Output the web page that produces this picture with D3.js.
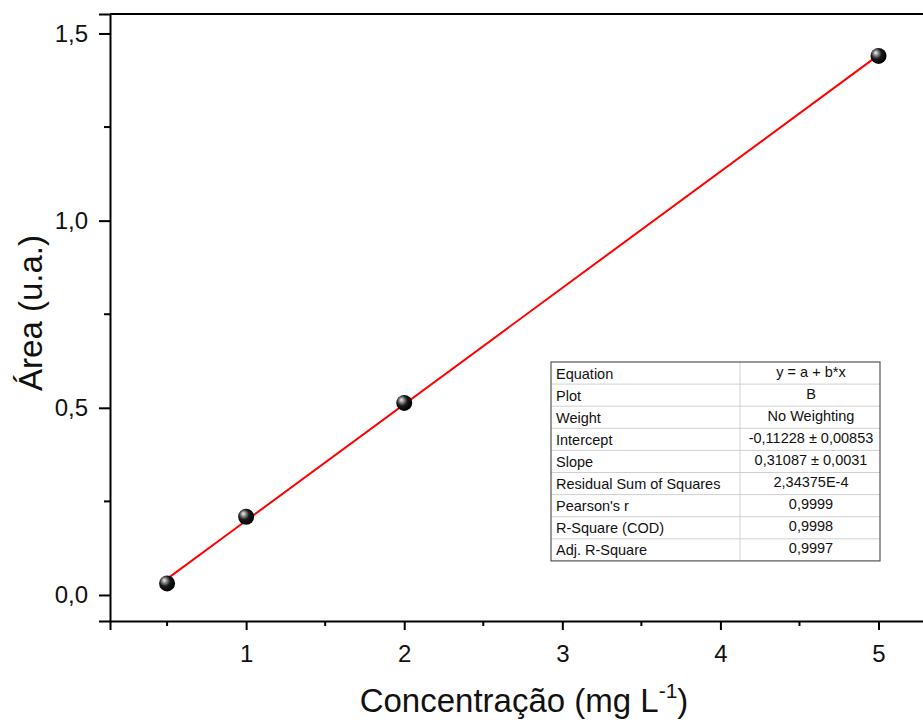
<!DOCTYPE html>
<html>
<head>
<meta charset="utf-8">
<script src="https://cdn.jsdelivr.net/npm/d3@7"></script>
<style>
  html, body { margin: 0; padding: 0; background: #fff; }
  svg { display: block; font-family: "Liberation Sans", Arial, sans-serif; }
</style>
</head>
<body>
<svg id="chart" width="923" height="722"></svg>
<script>
// Calibration data: concentration (mg/L) vs. peak area (a.u.)
const concentrations = [0.5, 1, 2, 5];
const areas = [0.031, 0.209, 0.513, 1.440];

// Linear fit parameters (y = a + b*x)
const fitIntercept = -0.11228;
const fitSlope = 0.31087;

// Axis ticks
const xMajorTicks = [1, 2, 3, 4, 5];
const xMinorTicks = [0.5, 1.5, 2.5, 3.5, 4.5];
const yMajorTicks = [0, 0.5, 1.0, 1.5];
const yMinorTicks = [0.25, 0.75, 1.25];

// Fit statistics table
const statLabels = ["Equation", "Plot", "Weight", "Intercept", "Slope",
  "Residual Sum of Squares", "Pearson's r", "R-Square (COD)", "Adj. R-Square"];
const statValues = ["y = a + b*x", "B", "No Weighting", "-0,11228 \u00b1 0,00853",
  "0,31087 \u00b1 0,0031", "2,34375E-4", "0,9999", "0,9998", "0,9997"];

const svg = d3.select("#chart");
const W = 923, H = 722;
const plot = { left: 110, top: 14, bottom: 621 };

const x = d3.scaleLinear().domain([0.139, 5.4]).range([plot.left, plot.left + (5.4 - 0.139) * 158.1]);
const y = d3.scaleLinear().domain([-0.0695, 1.552]).range([plot.bottom, plot.top]);

const fmt = d => d3.format(".1f")(d).replace(".", ",");

// Sphere-like marker shading
const defs = svg.append("defs");
const grad = defs.append("radialGradient").attr("id", "ball")
  .attr("cx", "40%").attr("cy", "40%").attr("r", "60%")
  .attr("fx", "32%").attr("fy", "30%");
grad.append("stop").attr("offset", "0%").attr("stop-color", "#f4f4f4");
grad.append("stop").attr("offset", "22%").attr("stop-color", "#9a9a9a");
grad.append("stop").attr("offset", "55%").attr("stop-color", "#1a1a1a");
grad.append("stop").attr("offset", "100%").attr("stop-color", "#000");

// Top frame line
svg.append("line")
  .attr("x1", plot.left).attr("x2", W)
  .attr("y1", plot.top).attr("y2", plot.top)
  .attr("stroke", "#000").attr("stroke-width", 2);

// X axis
const xAxis = svg.append("g").attr("transform", `translate(0,${plot.bottom})`)
  .call(d3.axisBottom(x).tickValues(xMajorTicks).tickSize(9).tickPadding(15).tickFormat(d3.format("d")));
xAxis.select(".domain").attr("stroke-width", 2);
xAxis.selectAll(".tick line").attr("stroke-width", 2);
xAxis.selectAll(".tick text").attr("font-size", 24).attr("fill", "#111")
  .attr("font-family", "Liberation Sans, Arial, sans-serif");
xAxis.selectAll(".minor").data(xMinorTicks).enter().append("line")
  .attr("x1", d => x(d)).attr("x2", d => x(d))
  .attr("y1", 0).attr("y2", 5)
  .attr("stroke", "#000").attr("stroke-width", 2);

// Y axis
const yAxis = svg.append("g").attr("transform", `translate(${plot.left},0)`)
  .call(d3.axisLeft(y).tickValues(yMajorTicks).tickSize(11).tickPadding(11).tickFormat(fmt));
yAxis.select(".domain").attr("stroke-width", 2);
yAxis.selectAll(".tick line").attr("stroke-width", 2);
yAxis.selectAll(".tick text").attr("font-size", 24).attr("fill", "#111")
  .attr("font-family", "Liberation Sans, Arial, sans-serif");
yAxis.selectAll(".minor").data(yMinorTicks).enter().append("line")
  .attr("x1", 0).attr("x2", -6)
  .attr("y1", d => y(d)).attr("y2", d => y(d))
  .attr("stroke", "#000").attr("stroke-width", 2);

// Axis titles
svg.append("text")
  .attr("transform", `translate(42,313) rotate(-90)`)
  .attr("text-anchor", "middle")
  .attr("font-size", 33).attr("fill", "#111")
  .text("\u00c1rea (u.a.)");

const xTitle = svg.append("text")
  .attr("x", 524).attr("y", 712)
  .attr("text-anchor", "middle")
  .attr("font-size", 33).attr("fill", "#111");
xTitle.append("tspan").text("Concentra\u00e7\u00e3o (mg L");
xTitle.append("tspan").attr("font-size", 21).attr("dy", -14).text("-1");
xTitle.append("tspan").attr("dy", 14).text(")");

// Fit line
const fitX = [d3.min(concentrations), d3.max(concentrations)];
svg.append("line")
  .attr("x1", x(fitX[0])).attr("y1", y(fitIntercept + fitSlope * fitX[0]))
  .attr("x2", x(fitX[1])).attr("y2", y(fitIntercept + fitSlope * fitX[1]))
  .attr("stroke", "#ff0000").attr("stroke-width", 2);

// Data points
svg.selectAll(".pt").data(concentrations).enter().append("circle")
  .attr("class", "pt")
  .attr("cx", d => x(d))
  .attr("cy", (d, i) => y(areas[i]))
  .attr("r", 8)
  .attr("fill", "url(#ball)");

// Statistics table
const tbl = { left: 551, top: 362, rowH: 22.1, split: 740, right: 880 };
const tg = svg.append("g");
tg.append("rect")
  .attr("x", tbl.left).attr("y", tbl.top)
  .attr("width", tbl.right - tbl.left).attr("height", tbl.rowH * statLabels.length)
  .attr("fill", "#fff");
statLabels.slice(1).forEach((_, i) => {
  tg.append("line")
    .attr("x1", tbl.left).attr("x2", tbl.right)
    .attr("y1", tbl.top + (i + 1) * tbl.rowH).attr("y2", tbl.top + (i + 1) * tbl.rowH)
    .attr("stroke", "#d0d0d0").attr("stroke-width", 1);
});
tg.append("line")
  .attr("x1", tbl.split).attr("x2", tbl.split)
  .attr("y1", tbl.top).attr("y2", tbl.top + tbl.rowH * statLabels.length)
  .attr("stroke", "#d0d0d0").attr("stroke-width", 1);
tg.append("rect")
  .attr("x", tbl.left).attr("y", tbl.top)
  .attr("width", tbl.right - tbl.left).attr("height", tbl.rowH * statLabels.length)
  .attr("fill", "none").attr("stroke", "#555").attr("stroke-width", 1.2);
tg.selectAll(".lbl").data(statLabels).enter().append("text")
  .attr("x", tbl.left + 5)
  .attr("y", (d, i) => tbl.top + i * tbl.rowH + 16.5)
  .attr("font-size", 14.5).attr("fill", "#111")
  .text(d => d);
tg.selectAll(".val").data(statValues).enter().append("text")
  .attr("x", (tbl.split + tbl.right) / 2 + 1)
  .attr("y", (d, i) => tbl.top + i * tbl.rowH + 14.5)
  .attr("text-anchor", "middle")
  .attr("font-size", 14.5).attr("fill", "#111")
  .text(d => d);
</script>
</body>
</html>
